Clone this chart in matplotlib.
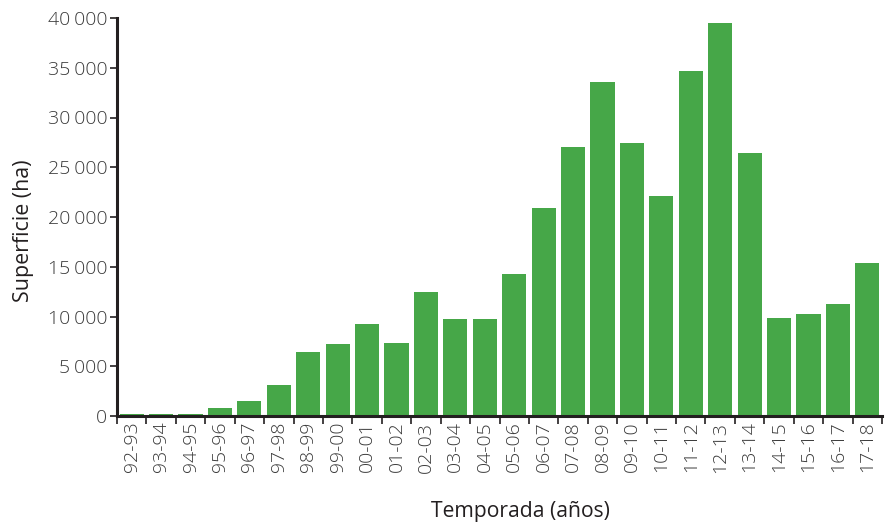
import matplotlib
matplotlib.use("Agg")
import matplotlib.pyplot as plt
from matplotlib.ticker import FuncFormatter, FixedLocator
import numpy as np

# seasons and surface (ha)
temporadas = ["92-93", "93-94", "94-95", "95-96", "96-97", "97-98", "98-99",
              "99-00", "00-01", "01-02", "02-03", "03-04", "04-05", "05-06",
              "06-07", "07-08", "08-09", "09-10", "10-11", "11-12", "12-13",
              "13-14", "14-15", "15-16", "16-17", "17-18"]
superficie = [200, 200, 200, 800, 1500, 3100, 6400, 7200, 9200, 7300,
              12500, 9700, 9700, 14300, 20900, 27000, 33600, 27400, 22100,
              34700, 39500, 26400, 9800, 10300, 11300, 15400]
y_ticks = [0, 5000, 10000, 15000, 20000, 25000, 30000, 35000, 40000]

plt.rcParams['font.family'] = ['Open Sans', 'DejaVu Sans']

dark = "#231f20"
green = "#46a748"

fig = plt.figure(figsize=(8.96, 5.24), dpi=100)
ax = fig.add_axes([117 / 896, 1 - 416 / 524, 765 / 896, 398 / 524])

x = np.arange(len(temporadas))
ax.bar(x, superficie, width=0.82, color=green)

ax.set_xlim(-0.5, len(temporadas) - 0.5)
ax.set_ylim(0, 40000)

ax.spines['top'].set_visible(False)
ax.spines['right'].set_visible(False)
for s in ('left', 'bottom'):
    ax.spines[s].set_linewidth(2.2)
    ax.spines[s].set_color(dark)

ax.set_yticks(y_ticks)
ax.yaxis.set_major_formatter(FuncFormatter(lambda v, p: f"{int(v):,}".replace(",", "\u2009")))
ax.tick_params(axis='y', length=5, width=1.2, color=dark, labelsize=14,
               labelcolor="#3a3a3a", pad=2)

ax.set_xticks(x)
ax.set_xticklabels(temporadas, rotation=90, fontsize=14, color="#3a3a3a")
ax.tick_params(axis='x', which='major', length=0, pad=4)
ax.xaxis.set_minor_locator(FixedLocator(np.arange(-0.5, len(temporadas), 1.0)))
ax.tick_params(axis='x', which='minor', length=6, width=1.2, color=dark)

for lab in ax.get_yticklabels() + ax.get_xticklabels():
    lab.set_fontweight('light')

fig.text(23 / 896, 1 - 231 / 524, "Superficie (ha)", rotation=90, ha='center',
         va='center', fontsize=15.4, color=dark)
fig.text(520 / 896, 1 - 511 / 524, "Temporada (años)", ha='center', va='center',
         fontsize=15.2, color=dark)

fig.savefig("out.png", dpi=100)
